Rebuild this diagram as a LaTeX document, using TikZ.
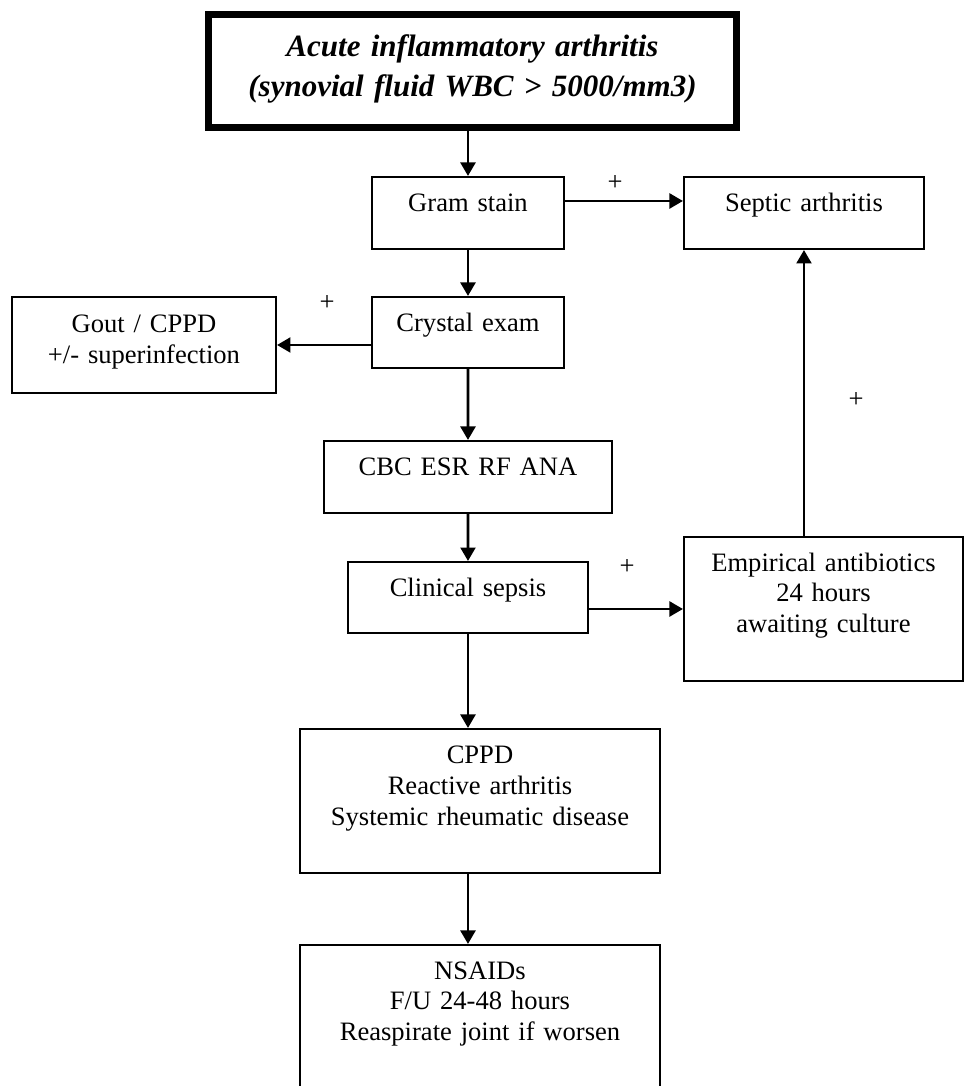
\documentclass[tikz,border=0pt]{standalone}
\usepackage{fontspec}
\setmainfont{Liberation Serif}
\usetikzlibrary{arrows.meta}

\begin{document}
\begin{tikzpicture}[
    box/.style={draw, line width=0.95pt, anchor=north west, inner sep=0pt, align=center,
                font=\fontsize{12.6}{14.6}\selectfont},
    arr/.style={-{Triangle[length=6.4pt,width=7pt]}, line width=1.4pt},
    plus/.style={font=\fontsize{12.6}{14.6}\selectfont}
  ]

      \useasboundingbox (0,0) rectangle (16.05,-18.1);

      % Top box
      \node[box, line width=3.3pt, text width=8.8cm, text height=0.7cm, text depth=1.18cm,
            font=\fontsize{14.7}{19}\selectfont\bfseries\itshape] (acute) at (3.417,-0.183)
            {Acute inflammatory arthritis\\(synovial fluid WBC {\textgreater} 5000/mm3)};

      % The other boxes
      \foreach \name/\x/\y/\w/\h/\d/\txt in {
          gram/6.183/2.933/3.2/0.583/0.617/{Gram stain},
          septic/11.383/2.933/4.0/0.583/0.617/{Septic arthritis},
          crystal/6.183/4.933/3.2/0.567/0.617/{Crystal exam},
          gout/0.183/4.933/4.4/0.6/1.0/{Gout / CPPD\\+/- superinfection},
          cbc/5.383/7.333/4.8/0.583/0.617/{CBC ESR RF ANA},
          clinical/5.783/9.35/4.0/0.567/0.617/{Clinical sepsis},
          empirical/11.383/8.933/4.65/0.567/1.833/{Empirical antibiotics\\24 hours\\awaiting culture},
          cppd/4.983/12.133/6.0/0.583/1.817/{CPPD\\Reactive arthritis\\Systemic rheumatic disease},
          nsaid/4.983/15.733/6.0/0.567/2.1/{NSAIDs\\F/U 24-48 hours\\Reaspirate joint if worsen}} {
          \node[box, text width=\w cm, text height=\h cm, text depth=\d cm] (\name) at (\x,-\y) {\txt};
      }

      % Plus signs on the positive branches
      \foreach \i/\x/\y in {1/10.25/3.05, 2/5.45/5.05, 3/10.45/9.45, 4/14.267/6.667} {
          \node[plus] (p\i) at (\x,-\y) {+};
      }

      % Arrows
      \draw[arr] (acute.south -| gram.north) -- (gram.north);
      \foreach \a/\b in {gram/crystal, crystal/cbc, cbc/clinical} {
          \draw[arr] (\a) -- (\b);
      }
      \draw[arr] ([yshift=0.2cm]gram.east) -- ([yshift=0.2cm]gram.east -| septic.west);
      \draw[arr] (crystal.west |- gout.east) -- (gout.east);
      \draw[arr] (clinical.east |- empirical.west) -- (empirical.west);
      \draw[arr] (empirical.north -| septic.south) -- (septic.south);
      \draw[arr] (clinical.south) -- (clinical.south |- cppd.north);
      \draw[arr] (cppd.south -| clinical.south) -- (clinical.south |- nsaid.north);

\end{tikzpicture}
\end{document}
